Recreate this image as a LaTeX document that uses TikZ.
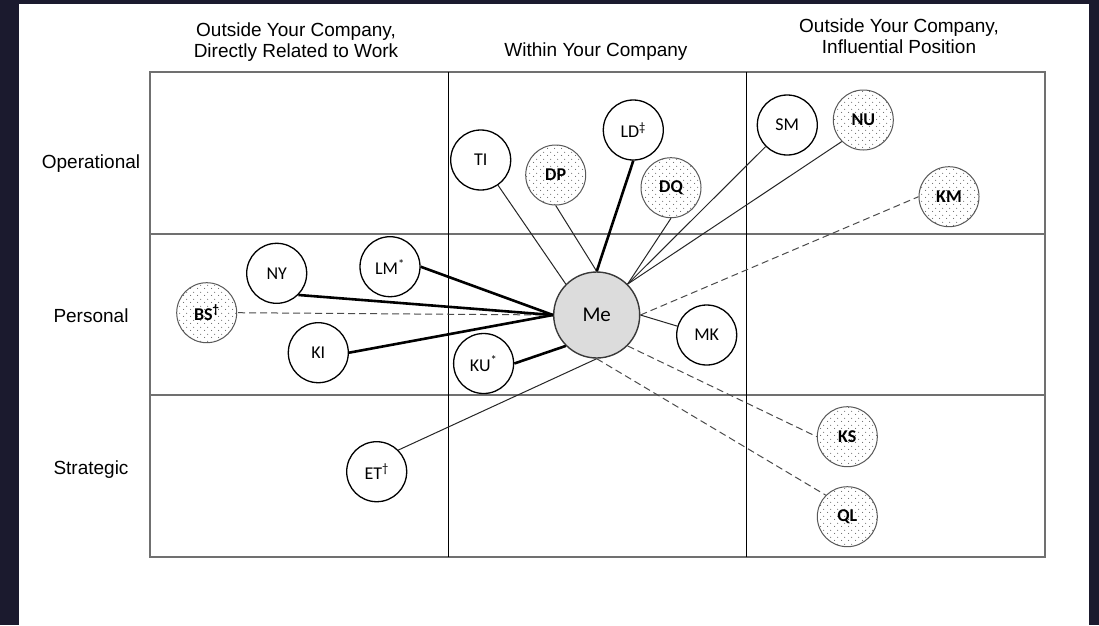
\documentclass[tikz,border=0pt]{standalone}
\usepackage{fontspec}
\setmainfont{Liberation Sans}
\newfontfamily\calfont{Carlito}
\usetikzlibrary{patterns}

\pgfdeclarepatternformonly{sparsedots}{\pgfqpoint{0pt}{0pt}}{\pgfqpoint{7pt}{7pt}}{\pgfqpoint{7pt}{7pt}}{%
  \pgfpathcircle{\pgfqpoint{1.75pt}{1.75pt}}{0.6pt}%
  \pgfpathcircle{\pgfqpoint{5.25pt}{5.25pt}}{0.6pt}%
  \pgfusepath{fill}%
}

\definecolor{framebg}{HTML}{1B1A2E}
\definecolor{gridgray}{HTML}{707070}
\definecolor{mefill}{HTML}{DCDCDC}

\tikzset{
  person/.style={circle, draw=black, line width=1.3pt, minimum size=60pt, inner sep=0pt,
    font=\calfont\fontsize{18}{18}\selectfont},
  outsider/.style={person, draw=gray!70!black, line width=1pt, pattern=sparsedots,
    pattern color=gray!80!black, font=\calfont\bfseries\fontsize{18}{18}\selectfont},
  self/.style={circle, draw=gray!45!black, fill=mefill, line width=1.4pt, minimum size=86pt,
    inner sep=0pt, font=\calfont\fontsize{21}{21}\selectfont},
  heading/.style={align=center, font=\fontsize{19}{21.5}\selectfont},
  rowlabel/.style={anchor=base, font=\fontsize{19}{19}\selectfont},
  strongtie/.style={line width=2.6pt, black},
  weaktie/.style={line width=1pt, black!85},
  dashedtie/.style={line width=1pt, gray!60!black, dash pattern=on 7pt off 4pt}
}

\begin{document}
\begin{tikzpicture}[x=1pt, y=-1pt]
	\useasboundingbox (0,0) rectangle (1099,625);
	\fill[framebg] (0,0) rectangle (1099,625);
	\fill[white] (19,4) rectangle (1089,625);

	% grid of the table
	\draw[gridgray, line width=1.4pt] (150,72) rectangle (1045,557);
	\draw[gridgray, line width=1.4pt] (150,234) -- (1045,234) (150,395) -- (1045,395);
	\draw[black, line width=0.9pt] (448,72) -- (448,557) (746,72) -- (746,557);

	% headings
	\node[heading] (h_work) at (296,42) {Outside Your Company,\\Directly Related to Work};
	\node[heading] (h_within) at (596,52) {Within Your Company};
	\node[heading] (h_infl) at (899,36) {Outside Your Company,\\Influential Position};
	\node[rowlabel] (r_oper) at (91,168) {Operational};
	\node[rowlabel] (r_pers) at (91,322) {Personal};
	\node[rowlabel] (r_strat) at (91,474) {Strategic};

	% contacts
	\node[self] (Me) at (596.7,315) {Me};
	\node[person] (NY) at (276.7,273.3) {NY};
	\node[outsider] (BS) at (206.7,312.7) {BS\textsuperscript{†}};
	\node[person] (LM) at (390,266.7) {LM\textsuperscript{*}};
	\node[person] (KI) at (318.3,352.7) {KI};
	\node[person] (KU) at (483.6,363.5) {KU\textsuperscript{*}};
	\node[person] (ET) at (376.7,471.7) {ET\textsuperscript{†}};
	\node[person] (TI) at (480.7,160) {TI};
	\node[outsider] (DP) at (555.7,175) {DP};
	\node[person] (LD) at (633.3,130) {LD\textsuperscript{‡}};
	\node[outsider] (DQ) at (671,187.7) {DQ};
	\node[person] (SM) at (787.3,125) {SM};
	\node[outsider] (NU) at (863.3,120) {NU};
	\node[outsider] (KM) at (949,196.7) {KM};
	\node[person] (MK) at (706.7,335) {MK};
	\node[outsider] (KS) at (847.3,436.7) {KS};
	\node[outsider] (QL) at (847.3,516.7) {QL};

	% ties
	\path
	 (Me.west) edge [dashedtie] (BS.east)
	           edge [strongtie] (NY.south east)
	           edge [strongtie] (LM.east)
	           edge [strongtie] (KI.east)
	 (Me.south west) edge [strongtie] (KU.east)
	 (Me.north west) edge [weaktie] (TI)
	 (Me.north) edge [weaktie] (DP.south)
	            edge [strongtie] (LD.south)
	 (Me.north east) edge [weaktie] (DQ.south)
	                 edge [weaktie] (SM)
	                 edge [weaktie] (NU.south west)
	 (Me.east) edge [dashedtie] (KM.west)
	           edge [weaktie] (MK)
	 (Me.south east) edge [dashedtie] (KS.west)
	 (Me.south) edge [dashedtie] (QL.north west)
	            edge [weaktie] (ET.north east);
\end{tikzpicture}
\end{document}
